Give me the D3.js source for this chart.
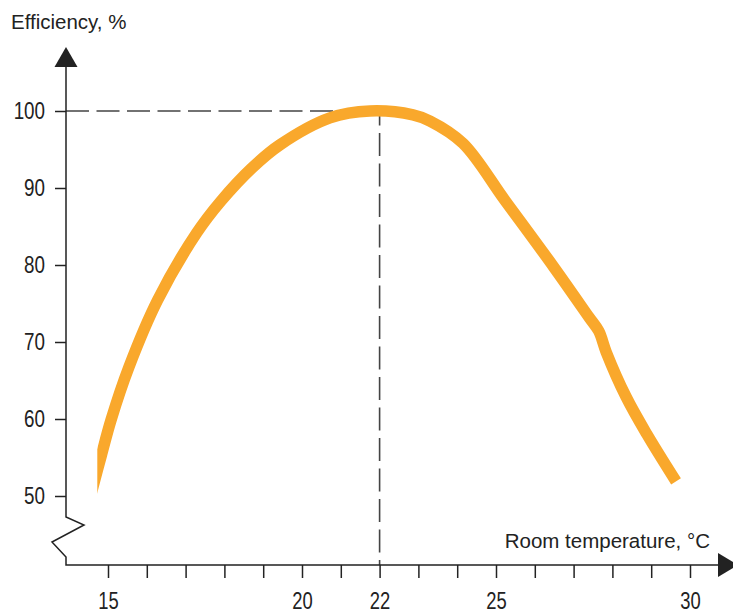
<!DOCTYPE html>
<html>
<head>
<meta charset="utf-8">
<script src="https://d3js.org/d3.v7.min.js"></script>
<style>
  body { margin: 0; background: #fff; }
  svg text { font-family: "Liberation Sans", Arial, sans-serif; fill: #222; }
</style>
</head>
<body>
<div id="chart"></div>
<script>

// efficiency curve
const temps = [14.575, 14.83, 15.08, 15.54, 16.28, 17.29, 17.91, 18.71, 19.43, 20.72, 21.75, 22.86, 23.3, 24.15, 25.23, 26.48, 27.4, 27.65, 27.84, 28.35, 28.88, 29.64];
const effic = [50.5, 55.3, 59.9, 66.75, 75.45, 84.2, 88.3, 92.6, 95.6, 99.1, 100.0, 99.5, 98.7, 95.8, 88.4, 79.8, 73.2, 71.4, 68.7, 62.9, 58.1, 51.9];

const xTicks = d3.range(15, 31);
const xLabels = [15, 20, 22, 25, 30];
const yTicks = [50, 60, 70, 80, 90, 100];
const optimum = [22, 100];

const w = 733;
const h = 614;
const axisX = 66;   // y axis position
const axisY = 565;  // x axis position
const narrow = 0.8; // condensed look for the tick numbers

const x = d3.scaleLinear().domain([15, 30]).range([108, 690]);
const y = d3.scaleLinear().domain([50, 100]).range([496, 111]);

const svg = d3.select("#chart").append("svg")
  .attr("width", w)
  .attr("height", h);

const ink = "#222";

// dashed guide lines to the optimum
svg.append("path")
  .attr("d", "M" + axisX + "," + y(optimum[1]) + "H" + x(optimum[0]) + "V" + axisY)
  .attr("fill", "none")
  .attr("stroke", "#444")
  .attr("stroke-width", 1.6)
  .attr("stroke-dasharray", "23,7.5");

// curve, clipped on the left so the start has a flat vertical edge
svg.append("clipPath").attr("id", "clip")
  .append("rect")
  .attr("x", x(14.724)).attr("y", 0)
  .attr("width", w).attr("height", h);

const data = temps.map((t, i) => [t, effic[i]]);
const line = d3.line()
  .x(d => x(d[0]))
  .y(d => y(d[1]))
  .curve(d3.curveCatmullRom.alpha(0.5));

svg.append("path")
  .datum(data)
  .attr("clip-path", "url(#clip)")
  .attr("d", line)
  .attr("fill", "none")
  .attr("stroke", "#F9A82C")
  .attr("stroke-width", 11.5);

// y axis with the break zigzag near the bottom, then x axis
svg.append("path")
  .attr("d", "M" + axisX + ",60V517L84,525L52,542L" + axisX + ",557V" + axisY + "H718")
  .attr("fill", "none")
  .attr("stroke", ink)
  .attr("stroke-width", 1.5);

// arrow heads
svg.append("path")
  .attr("d", "M" + axisX + ",47L" + (axisX - 11.5) + ",67L" + (axisX + 11.5) + ",67Z")
  .attr("fill", ink);
svg.append("path")
  .attr("d", "M738," + axisY + "L718," + (axisY - 12) + "L718," + (axisY + 12) + "Z")
  .attr("fill", ink);

const yAxis = d3.axisLeft(y).tickValues(yTicks).tickSize(11).tickPadding(10);
const gy = svg.append("g")
  .attr("transform", "translate(" + axisX + ",0)")
  .call(yAxis);
gy.select(".domain").remove();

const xAxis = d3.axisBottom(x).tickValues(xTicks).tickSize(13).tickPadding(14.7)
  .tickFormat(d => xLabels.includes(d) ? d : "");
const gx = svg.append("g")
  .attr("transform", "translate(0," + axisY + ")")
  .call(xAxis);
gx.select(".domain").remove();

svg.selectAll(".tick line").attr("stroke", ink).attr("stroke-width", 1.5);
svg.selectAll(".tick text")
  .attr("fill", ink)
  .attr("x", function() { return (+d3.select(this).attr("x") || 0) / narrow; })
  .attr("transform", "scale(" + narrow + ",1)")
  .style("font-size", "23.5px");
gx.selectAll(".tick text").style("font-size", "23px");

// axis titles
svg.append("text")
  .attr("x", 11)
  .attr("y", 29)
  .style("font-size", "20.5px")
  .text("Efficiency, %");

svg.append("text")
  .attr("x", 710)
  .attr("y", 548)
  .style("text-anchor", "end")
  .style("font-size", "20.5px")
  .text("Room temperature, °C");

</script>
</body>
</html>
